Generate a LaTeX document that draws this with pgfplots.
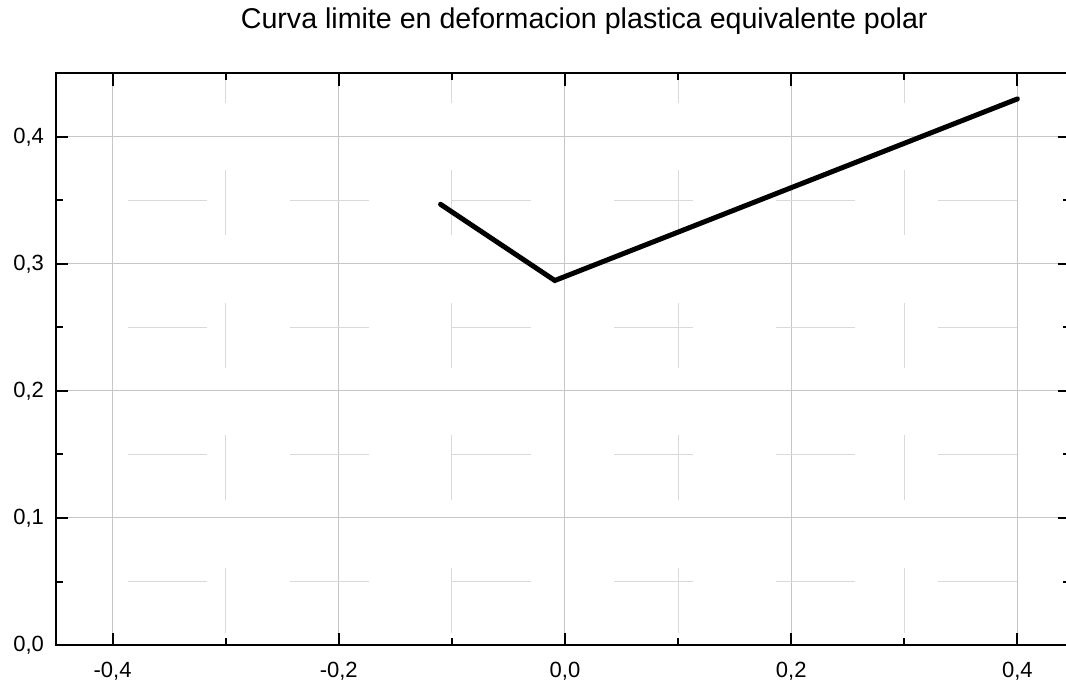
\documentclass[border=0pt]{standalone}
\usepackage{fontspec}
\setmainfont{Liberation Sans}
\usepackage{pgfplots}
\pgfplotsset{compat=1.18}
\begin{document}
\begin{tikzpicture}
\begin{axis}[
 scale only axis, width=507pt, height=285.75pt,
 xmin=-0.45, xmax=0.4465, ymin=0, ymax=0.45,
 xtick={-0.4,-0.2,0,0.2,0.4},
 xticklabels={{-0,4},{-0,2},{0,0},{0,2},{0,4}},
 ytick={0,0.1,0.2,0.3,0.4},
 yticklabels={{0,0},{0,1},{0,2},{0,3},{0,4}},
 minor xtick={-0.3,-0.1,0.1,0.3},
 minor ytick={0.05,0.15,0.25,0.35},
 tick align=inside,
 major tick length=6pt, minor tick length=3.5pt,
 every tick/.style={black, line width=1pt},
 axis line style={line width=1pt},
 grid=both,
 major grid style={gray!45, line width=0.5pt},
 minor x grid style={gray!30, line width=0.5pt, dash pattern=on 32.5pt off 33.75pt, dash phase=60.25pt},
 minor y grid style={gray!30, line width=0.5pt, dash pattern=on 39.5pt off 41.5pt, dash phase=45pt},
 tick label style={font=\fontsize{11}{13}\selectfont},
 xticklabel style={yshift=-5pt},
 yticklabel style={xshift=-2.5pt},
 title={Curva limite en deformacion plastica equivalente polar},
 title style={at={(0.521,1)}, anchor=base, yshift=16.5pt, font=\fontsize{14.3}{16}\selectfont},
]
\addplot[black, line width=2.5pt, line join=miter, line cap=round] coordinates {(-0.11,0.347) (-0.009,0.287) (0.4,0.43)};
\coordinate (bl) at (rel axis cs:0,0);
\end{axis}
\pgfresetboundingbox
\path[use as bounding box] (bl) ++(-28pt,-17.5pt) rectangle ++(533pt,340pt);
\end{tikzpicture}
\end{document}
